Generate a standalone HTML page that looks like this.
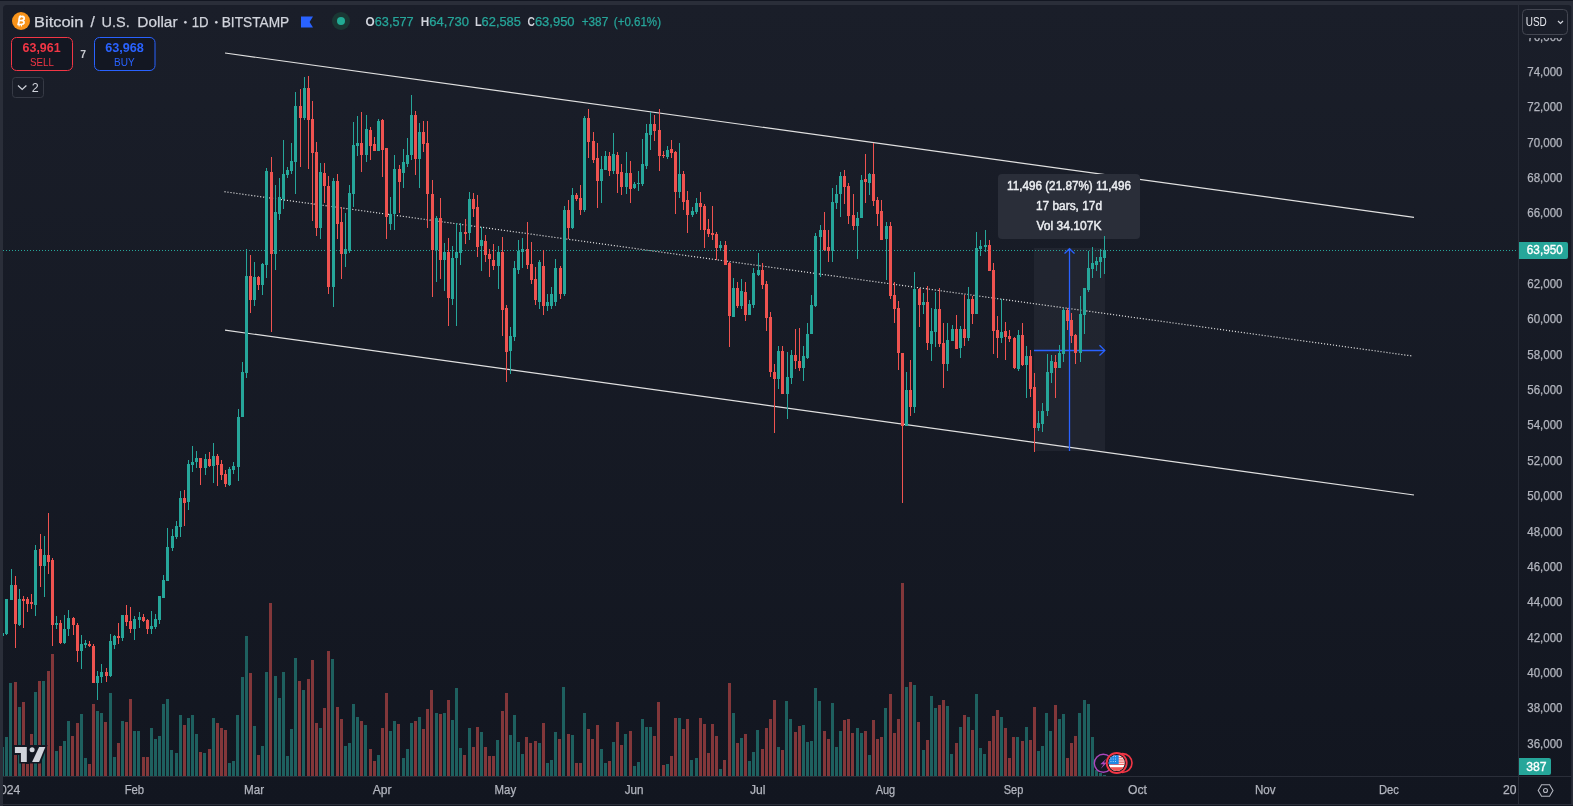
<!DOCTYPE html>
<html><head><meta charset="utf-8"><style>
html,body{margin:0;padding:0;width:1573px;height:806px;overflow:hidden;background:#2a2e39}
svg{display:block;will-change:transform}
text{font-family:"Liberation Sans",sans-serif}
</style></head><body>
<svg width="1573" height="806" viewBox="0 0 1573 806">
<rect x="0" y="0" width="1573" height="1" fill="#131722"/>
<defs><linearGradient id="bgg" gradientUnits="userSpaceOnUse" x1="0" y1="5" x2="0" y2="804"><stop offset="0" stop-color="#1a1e29"/><stop offset="1" stop-color="#121620"/></linearGradient></defs>
<rect x="3" y="5" width="1568.5" height="799" fill="url(#bgg)"/>
<g shape-rendering="crispEdges"><rect x="1" y="747" width="3" height="29" fill="#1e605f"/><rect x="5" y="737" width="3" height="39" fill="#1e605f"/><rect x="9" y="683" width="3" height="93" fill="#1e605f"/><rect x="14" y="682" width="3" height="94" fill="#82373a"/><rect x="18" y="707" width="3" height="69" fill="#1e605f"/><rect x="22" y="702" width="3" height="74" fill="#82373a"/><rect x="26" y="764" width="3" height="12" fill="#82373a"/><rect x="30" y="734" width="3" height="42" fill="#82373a"/><rect x="34" y="692" width="3" height="84" fill="#1e605f"/><rect x="38" y="681" width="3" height="95" fill="#82373a"/><rect x="42" y="681" width="3" height="95" fill="#1e605f"/><rect x="47" y="671" width="3" height="105" fill="#82373a"/><rect x="51" y="654" width="3" height="122" fill="#82373a"/><rect x="55" y="751" width="3" height="25" fill="#1e605f"/><rect x="59" y="746" width="3" height="30" fill="#82373a"/><rect x="63" y="741" width="3" height="35" fill="#1e605f"/><rect x="67" y="721" width="3" height="55" fill="#1e605f"/><rect x="71" y="736" width="3" height="40" fill="#82373a"/><rect x="76" y="723" width="3" height="53" fill="#82373a"/><rect x="80" y="714" width="3" height="62" fill="#1e605f"/><rect x="84" y="758" width="3" height="18" fill="#1e605f"/><rect x="88" y="764" width="3" height="12" fill="#82373a"/><rect x="92" y="704" width="3" height="72" fill="#82373a"/><rect x="96" y="711" width="3" height="65" fill="#1e605f"/><rect x="100" y="713" width="3" height="63" fill="#1e605f"/><rect x="104" y="722" width="3" height="54" fill="#82373a"/><rect x="109" y="693" width="3" height="83" fill="#1e605f"/><rect x="113" y="757" width="3" height="19" fill="#1e605f"/><rect x="117" y="743" width="3" height="33" fill="#82373a"/><rect x="121" y="721" width="3" height="55" fill="#1e605f"/><rect x="125" y="722" width="3" height="54" fill="#82373a"/><rect x="129" y="699" width="3" height="77" fill="#82373a"/><rect x="133" y="731" width="3" height="45" fill="#1e605f"/><rect x="137" y="731" width="3" height="45" fill="#1e605f"/><rect x="142" y="757" width="3" height="19" fill="#82373a"/><rect x="146" y="757" width="3" height="19" fill="#82373a"/><rect x="150" y="728" width="3" height="48" fill="#1e605f"/><rect x="154" y="739" width="3" height="37" fill="#1e605f"/><rect x="158" y="736" width="3" height="40" fill="#1e605f"/><rect x="162" y="704" width="3" height="72" fill="#1e605f"/><rect x="166" y="699" width="3" height="77" fill="#1e605f"/><rect x="170" y="750" width="3" height="26" fill="#1e605f"/><rect x="175" y="753" width="3" height="23" fill="#1e605f"/><rect x="179" y="715" width="3" height="61" fill="#1e605f"/><rect x="183" y="725" width="3" height="51" fill="#82373a"/><rect x="187" y="718" width="3" height="58" fill="#1e605f"/><rect x="191" y="715" width="3" height="61" fill="#1e605f"/><rect x="195" y="734" width="3" height="42" fill="#1e605f"/><rect x="199" y="752" width="3" height="24" fill="#82373a"/><rect x="203" y="753" width="3" height="23" fill="#1e605f"/><rect x="208" y="749" width="3" height="27" fill="#82373a"/><rect x="212" y="718" width="3" height="58" fill="#1e605f"/><rect x="216" y="723" width="3" height="53" fill="#82373a"/><rect x="220" y="728" width="3" height="48" fill="#82373a"/><rect x="224" y="730" width="3" height="46" fill="#82373a"/><rect x="228" y="763" width="3" height="13" fill="#1e605f"/><rect x="232" y="761" width="3" height="15" fill="#1e605f"/><rect x="236" y="715" width="3" height="61" fill="#1e605f"/><rect x="241" y="677" width="3" height="99" fill="#1e605f"/><rect x="245" y="636" width="3" height="140" fill="#1e605f"/><rect x="249" y="673" width="3" height="103" fill="#82373a"/><rect x="253" y="726" width="3" height="50" fill="#1e605f"/><rect x="257" y="755" width="3" height="21" fill="#82373a"/><rect x="261" y="746" width="3" height="30" fill="#1e605f"/><rect x="265" y="672" width="3" height="104" fill="#1e605f"/><rect x="269" y="603" width="3" height="173" fill="#82373a"/><rect x="274" y="676" width="3" height="100" fill="#1e605f"/><rect x="278" y="698" width="3" height="78" fill="#1e605f"/><rect x="282" y="672" width="3" height="104" fill="#1e605f"/><rect x="286" y="756" width="3" height="20" fill="#1e605f"/><rect x="290" y="729" width="3" height="47" fill="#1e605f"/><rect x="294" y="658" width="3" height="118" fill="#1e605f"/><rect x="298" y="681" width="3" height="95" fill="#82373a"/><rect x="302" y="690" width="3" height="86" fill="#1e605f"/><rect x="307" y="679" width="3" height="97" fill="#82373a"/><rect x="311" y="660" width="3" height="116" fill="#82373a"/><rect x="315" y="723" width="3" height="53" fill="#82373a"/><rect x="319" y="728" width="3" height="48" fill="#1e605f"/><rect x="323" y="708" width="3" height="68" fill="#82373a"/><rect x="327" y="651" width="3" height="125" fill="#82373a"/><rect x="331" y="659" width="3" height="117" fill="#1e605f"/><rect x="336" y="707" width="3" height="69" fill="#82373a"/><rect x="340" y="719" width="3" height="57" fill="#82373a"/><rect x="344" y="746" width="3" height="30" fill="#1e605f"/><rect x="348" y="743" width="3" height="33" fill="#1e605f"/><rect x="352" y="704" width="3" height="72" fill="#1e605f"/><rect x="356" y="717" width="3" height="59" fill="#1e605f"/><rect x="360" y="721" width="3" height="55" fill="#82373a"/><rect x="364" y="725" width="3" height="51" fill="#1e605f"/><rect x="369" y="749" width="3" height="27" fill="#82373a"/><rect x="373" y="761" width="3" height="15" fill="#82373a"/><rect x="377" y="755" width="3" height="21" fill="#1e605f"/><rect x="381" y="728" width="3" height="48" fill="#82373a"/><rect x="385" y="693" width="3" height="83" fill="#82373a"/><rect x="389" y="731" width="3" height="45" fill="#1e605f"/><rect x="393" y="721" width="3" height="55" fill="#1e605f"/><rect x="397" y="724" width="3" height="52" fill="#82373a"/><rect x="402" y="758" width="3" height="18" fill="#1e605f"/><rect x="406" y="749" width="3" height="27" fill="#1e605f"/><rect x="410" y="723" width="3" height="53" fill="#1e605f"/><rect x="414" y="721" width="3" height="55" fill="#82373a"/><rect x="418" y="717" width="3" height="59" fill="#1e605f"/><rect x="422" y="729" width="3" height="47" fill="#82373a"/><rect x="426" y="709" width="3" height="67" fill="#82373a"/><rect x="430" y="690" width="3" height="86" fill="#82373a"/><rect x="435" y="713" width="3" height="63" fill="#1e605f"/><rect x="439" y="714" width="3" height="62" fill="#82373a"/><rect x="443" y="713" width="3" height="63" fill="#1e605f"/><rect x="447" y="700" width="3" height="76" fill="#82373a"/><rect x="451" y="720" width="3" height="56" fill="#1e605f"/><rect x="455" y="688" width="3" height="88" fill="#1e605f"/><rect x="459" y="748" width="3" height="28" fill="#1e605f"/><rect x="463" y="755" width="3" height="21" fill="#82373a"/><rect x="468" y="728" width="3" height="48" fill="#1e605f"/><rect x="472" y="747" width="3" height="29" fill="#82373a"/><rect x="476" y="727" width="3" height="49" fill="#82373a"/><rect x="480" y="732" width="3" height="44" fill="#1e605f"/><rect x="484" y="747" width="3" height="29" fill="#82373a"/><rect x="488" y="756" width="3" height="20" fill="#82373a"/><rect x="492" y="756" width="3" height="20" fill="#82373a"/><rect x="496" y="740" width="3" height="36" fill="#1e605f"/><rect x="501" y="711" width="3" height="65" fill="#82373a"/><rect x="505" y="693" width="3" height="83" fill="#82373a"/><rect x="509" y="735" width="3" height="41" fill="#1e605f"/><rect x="513" y="715" width="3" height="61" fill="#1e605f"/><rect x="517" y="742" width="3" height="34" fill="#1e605f"/><rect x="521" y="754" width="3" height="22" fill="#1e605f"/><rect x="525" y="737" width="3" height="39" fill="#82373a"/><rect x="529" y="743" width="3" height="33" fill="#82373a"/><rect x="534" y="741" width="3" height="35" fill="#82373a"/><rect x="538" y="743" width="3" height="33" fill="#1e605f"/><rect x="542" y="723" width="3" height="53" fill="#82373a"/><rect x="546" y="763" width="3" height="13" fill="#1e605f"/><rect x="550" y="760" width="3" height="16" fill="#1e605f"/><rect x="554" y="732" width="3" height="44" fill="#1e605f"/><rect x="558" y="739" width="3" height="37" fill="#82373a"/><rect x="562" y="687" width="3" height="89" fill="#1e605f"/><rect x="567" y="734" width="3" height="42" fill="#82373a"/><rect x="571" y="735" width="3" height="41" fill="#1e605f"/><rect x="575" y="763" width="3" height="13" fill="#82373a"/><rect x="579" y="763" width="3" height="13" fill="#82373a"/><rect x="583" y="713" width="3" height="63" fill="#1e605f"/><rect x="587" y="729" width="3" height="47" fill="#82373a"/><rect x="591" y="739" width="3" height="37" fill="#82373a"/><rect x="596" y="725" width="3" height="51" fill="#82373a"/><rect x="600" y="749" width="3" height="27" fill="#1e605f"/><rect x="604" y="763" width="3" height="13" fill="#1e605f"/><rect x="608" y="761" width="3" height="15" fill="#82373a"/><rect x="612" y="742" width="3" height="34" fill="#1e605f"/><rect x="616" y="722" width="3" height="54" fill="#82373a"/><rect x="620" y="745" width="3" height="31" fill="#82373a"/><rect x="624" y="734" width="3" height="42" fill="#1e605f"/><rect x="629" y="731" width="3" height="45" fill="#82373a"/><rect x="633" y="766" width="3" height="10" fill="#1e605f"/><rect x="637" y="762" width="3" height="14" fill="#1e605f"/><rect x="641" y="719" width="3" height="57" fill="#1e605f"/><rect x="645" y="727" width="3" height="49" fill="#1e605f"/><rect x="649" y="727" width="3" height="49" fill="#1e605f"/><rect x="653" y="736" width="3" height="40" fill="#82373a"/><rect x="657" y="702" width="3" height="74" fill="#82373a"/><rect x="662" y="765" width="3" height="11" fill="#82373a"/><rect x="666" y="764" width="3" height="12" fill="#1e605f"/><rect x="670" y="756" width="3" height="20" fill="#82373a"/><rect x="674" y="718" width="3" height="58" fill="#82373a"/><rect x="678" y="718" width="3" height="58" fill="#1e605f"/><rect x="682" y="729" width="3" height="47" fill="#82373a"/><rect x="686" y="719" width="3" height="57" fill="#82373a"/><rect x="690" y="760" width="3" height="16" fill="#1e605f"/><rect x="695" y="758" width="3" height="18" fill="#1e605f"/><rect x="699" y="718" width="3" height="58" fill="#82373a"/><rect x="703" y="724" width="3" height="52" fill="#82373a"/><rect x="707" y="753" width="3" height="23" fill="#82373a"/><rect x="711" y="724" width="3" height="52" fill="#82373a"/><rect x="715" y="736" width="3" height="40" fill="#82373a"/><rect x="719" y="769" width="3" height="7" fill="#1e605f"/><rect x="723" y="760" width="3" height="16" fill="#82373a"/><rect x="728" y="683" width="3" height="93" fill="#82373a"/><rect x="732" y="713" width="3" height="63" fill="#1e605f"/><rect x="736" y="743" width="3" height="33" fill="#82373a"/><rect x="740" y="738" width="3" height="38" fill="#1e605f"/><rect x="744" y="734" width="3" height="42" fill="#82373a"/><rect x="748" y="761" width="3" height="15" fill="#1e605f"/><rect x="752" y="752" width="3" height="24" fill="#1e605f"/><rect x="756" y="730" width="3" height="46" fill="#1e605f"/><rect x="761" y="749" width="3" height="27" fill="#82373a"/><rect x="765" y="728" width="3" height="48" fill="#82373a"/><rect x="769" y="719" width="3" height="57" fill="#82373a"/><rect x="773" y="700" width="3" height="76" fill="#82373a"/><rect x="777" y="747" width="3" height="29" fill="#1e605f"/><rect x="781" y="750" width="3" height="26" fill="#82373a"/><rect x="785" y="701" width="3" height="75" fill="#1e605f"/><rect x="789" y="719" width="3" height="57" fill="#1e605f"/><rect x="794" y="732" width="3" height="44" fill="#82373a"/><rect x="798" y="726" width="3" height="50" fill="#82373a"/><rect x="802" y="725" width="3" height="51" fill="#1e605f"/><rect x="806" y="742" width="3" height="34" fill="#1e605f"/><rect x="810" y="741" width="3" height="35" fill="#1e605f"/><rect x="814" y="688" width="3" height="88" fill="#1e605f"/><rect x="818" y="701" width="3" height="75" fill="#1e605f"/><rect x="823" y="731" width="3" height="45" fill="#82373a"/><rect x="827" y="739" width="3" height="37" fill="#82373a"/><rect x="831" y="703" width="3" height="73" fill="#1e605f"/><rect x="835" y="747" width="3" height="29" fill="#1e605f"/><rect x="839" y="731" width="3" height="45" fill="#1e605f"/><rect x="843" y="720" width="3" height="56" fill="#82373a"/><rect x="847" y="719" width="3" height="57" fill="#82373a"/><rect x="851" y="733" width="3" height="43" fill="#82373a"/><rect x="856" y="728" width="3" height="48" fill="#1e605f"/><rect x="860" y="733" width="3" height="43" fill="#1e605f"/><rect x="864" y="731" width="3" height="45" fill="#82373a"/><rect x="868" y="755" width="3" height="21" fill="#1e605f"/><rect x="872" y="720" width="3" height="56" fill="#82373a"/><rect x="876" y="739" width="3" height="37" fill="#82373a"/><rect x="880" y="737" width="3" height="39" fill="#82373a"/><rect x="884" y="708" width="3" height="68" fill="#1e605f"/><rect x="889" y="694" width="3" height="82" fill="#82373a"/><rect x="893" y="733" width="3" height="43" fill="#82373a"/><rect x="897" y="719" width="3" height="57" fill="#82373a"/><rect x="901" y="583" width="3" height="193" fill="#82373a"/><rect x="905" y="687" width="3" height="89" fill="#1e605f"/><rect x="909" y="682" width="3" height="94" fill="#82373a"/><rect x="913" y="685" width="3" height="91" fill="#1e605f"/><rect x="917" y="722" width="3" height="54" fill="#82373a"/><rect x="922" y="750" width="3" height="26" fill="#1e605f"/><rect x="926" y="740" width="3" height="36" fill="#82373a"/><rect x="930" y="696" width="3" height="80" fill="#1e605f"/><rect x="934" y="708" width="3" height="68" fill="#1e605f"/><rect x="938" y="705" width="3" height="71" fill="#82373a"/><rect x="942" y="700" width="3" height="76" fill="#82373a"/><rect x="946" y="706" width="3" height="70" fill="#1e605f"/><rect x="950" y="754" width="3" height="22" fill="#1e605f"/><rect x="955" y="743" width="3" height="33" fill="#82373a"/><rect x="959" y="727" width="3" height="49" fill="#1e605f"/><rect x="963" y="715" width="3" height="61" fill="#82373a"/><rect x="967" y="717" width="3" height="59" fill="#1e605f"/><rect x="971" y="730" width="3" height="46" fill="#82373a"/><rect x="975" y="694" width="3" height="82" fill="#1e605f"/><rect x="979" y="748" width="3" height="28" fill="#1e605f"/><rect x="983" y="754" width="3" height="22" fill="#1e605f"/><rect x="988" y="741" width="3" height="35" fill="#82373a"/><rect x="992" y="716" width="3" height="60" fill="#82373a"/><rect x="996" y="710" width="3" height="66" fill="#82373a"/><rect x="1000" y="717" width="3" height="59" fill="#1e605f"/><rect x="1004" y="728" width="3" height="48" fill="#82373a"/><rect x="1008" y="758" width="3" height="18" fill="#82373a"/><rect x="1012" y="737" width="3" height="39" fill="#82373a"/><rect x="1016" y="737" width="3" height="39" fill="#1e605f"/><rect x="1021" y="741" width="3" height="35" fill="#82373a"/><rect x="1025" y="727" width="3" height="49" fill="#1e605f"/><rect x="1029" y="740" width="3" height="36" fill="#82373a"/><rect x="1033" y="707" width="3" height="69" fill="#82373a"/><rect x="1037" y="751" width="3" height="25" fill="#1e605f"/><rect x="1041" y="746" width="3" height="30" fill="#1e605f"/><rect x="1045" y="713" width="3" height="63" fill="#1e605f"/><rect x="1049" y="731" width="3" height="45" fill="#1e605f"/><rect x="1054" y="705" width="3" height="71" fill="#82373a"/><rect x="1058" y="719" width="3" height="57" fill="#1e605f"/><rect x="1062" y="714" width="3" height="62" fill="#1e605f"/><rect x="1066" y="758" width="3" height="18" fill="#82373a"/><rect x="1070" y="743" width="3" height="33" fill="#82373a"/><rect x="1074" y="736" width="3" height="40" fill="#82373a"/><rect x="1078" y="713" width="3" height="63" fill="#1e605f"/><rect x="1083" y="700" width="3" height="76" fill="#1e605f"/><rect x="1087" y="704" width="3" height="72" fill="#1e605f"/><rect x="1091" y="737" width="3" height="39" fill="#1e605f"/><rect x="1095" y="770" width="3" height="6" fill="#1e605f"/><rect x="1099" y="773" width="3" height="3" fill="#1e605f"/><rect x="1103" y="775" width="3" height="1" fill="#1e605f"/></g>
<rect x="1034" y="248" width="71" height="203" fill="#2a2e39" fill-opacity="0.55"/>
<g stroke-linecap="butt" fill="none">
<line x1="225" y1="53" x2="1414" y2="217.3" stroke="#e0e0e0" stroke-width="1.2"/>
<line x1="225" y1="330.2" x2="1414" y2="495" stroke="#e0e0e0" stroke-width="1.2"/>
<line x1="224.5" y1="191.7" x2="1412.3" y2="356" stroke="#e0e0e0" stroke-width="1.2" stroke-dasharray="1.1 1.9"/>
</g>
<line x1="3" y1="250.5" x2="1518" y2="250.5" stroke="#26a69a" stroke-width="1" stroke-dasharray="1 2"/>
<rect x="998" y="174" width="142" height="65" rx="4" fill="#2a2e39"/>
<g font-size="12.3" fill="#eceef2" stroke="#eceef2" stroke-width="0.45" text-anchor="middle">
<text x="1069" y="190" textLength="124" lengthAdjust="spacingAndGlyphs">11,496 (21.87%) 11,496</text>
<text x="1069" y="210" textLength="66" lengthAdjust="spacingAndGlyphs">17 bars, 17d</text>
<text x="1069" y="230" textLength="65" lengthAdjust="spacingAndGlyphs">Vol 34.107K</text>
</g>

<g stroke="#2962ff" stroke-width="1.3" fill="none">
<line x1="1069.5" y1="249" x2="1069.5" y2="451"/>
<polyline points="1064.5,253.5 1069.5,248.7 1074.5,253.5"/>
<line x1="1034" y1="350.5" x2="1104.5" y2="350.5"/>
<polyline points="1099.5,345.3 1104.8,350.4 1099.5,355.5"/>
</g>
<g shape-rendering="crispEdges"><rect x="2" y="633" width="1" height="3" fill="#26a69a"/><rect x="1" y="633" width="3" height="3" fill="#26a69a"/><rect x="6" y="599" width="1" height="36" fill="#26a69a"/><rect x="5" y="599" width="3" height="35" fill="#26a69a"/><rect x="11" y="569" width="1" height="31" fill="#26a69a"/><rect x="10" y="585" width="3" height="15" fill="#26a69a"/><rect x="15" y="576" width="1" height="72" fill="#ef5350"/><rect x="14" y="585" width="3" height="39" fill="#ef5350"/><rect x="19" y="589" width="1" height="37" fill="#26a69a"/><rect x="18" y="599" width="3" height="26" fill="#26a69a"/><rect x="23" y="596" width="1" height="32" fill="#ef5350"/><rect x="22" y="599" width="3" height="2" fill="#ef5350"/><rect x="27" y="597" width="1" height="15" fill="#ef5350"/><rect x="26" y="599" width="3" height="5" fill="#ef5350"/><rect x="31" y="594" width="1" height="15" fill="#ef5350"/><rect x="30" y="602" width="3" height="2" fill="#ef5350"/><rect x="35" y="545" width="1" height="71" fill="#26a69a"/><rect x="34" y="550" width="3" height="55" fill="#26a69a"/><rect x="40" y="534" width="1" height="53" fill="#ef5350"/><rect x="39" y="549" width="3" height="17" fill="#ef5350"/><rect x="44" y="536" width="1" height="61" fill="#26a69a"/><rect x="43" y="555" width="3" height="11" fill="#26a69a"/><rect x="48" y="513" width="1" height="61" fill="#ef5350"/><rect x="47" y="555" width="3" height="7" fill="#ef5350"/><rect x="52" y="558" width="1" height="88" fill="#ef5350"/><rect x="51" y="560" width="3" height="65" fill="#ef5350"/><rect x="56" y="616" width="1" height="13" fill="#26a69a"/><rect x="55" y="623" width="3" height="2" fill="#26a69a"/><rect x="60" y="620" width="1" height="24" fill="#ef5350"/><rect x="59" y="623" width="3" height="20" fill="#ef5350"/><rect x="64" y="615" width="1" height="29" fill="#26a69a"/><rect x="63" y="629" width="3" height="14" fill="#26a69a"/><rect x="68" y="610" width="1" height="26" fill="#26a69a"/><rect x="67" y="618" width="3" height="11" fill="#26a69a"/><rect x="73" y="617" width="1" height="18" fill="#ef5350"/><rect x="72" y="618" width="3" height="7" fill="#ef5350"/><rect x="77" y="623" width="1" height="39" fill="#ef5350"/><rect x="76" y="625" width="3" height="26" fill="#ef5350"/><rect x="81" y="635" width="1" height="34" fill="#26a69a"/><rect x="80" y="644" width="3" height="7" fill="#26a69a"/><rect x="85" y="640" width="1" height="8" fill="#26a69a"/><rect x="84" y="643" width="3" height="2" fill="#26a69a"/><rect x="89" y="641" width="1" height="6" fill="#ef5350"/><rect x="88" y="644" width="3" height="2" fill="#ef5350"/><rect x="93" y="644" width="1" height="39" fill="#ef5350"/><rect x="92" y="646" width="3" height="37" fill="#ef5350"/><rect x="97" y="671" width="1" height="29" fill="#26a69a"/><rect x="96" y="676" width="3" height="7" fill="#26a69a"/><rect x="101" y="664" width="1" height="19" fill="#26a69a"/><rect x="100" y="672" width="3" height="5" fill="#26a69a"/><rect x="106" y="668" width="1" height="14" fill="#ef5350"/><rect x="105" y="672" width="3" height="4" fill="#ef5350"/><rect x="110" y="634" width="1" height="43" fill="#26a69a"/><rect x="109" y="641" width="3" height="35" fill="#26a69a"/><rect x="114" y="635" width="1" height="14" fill="#26a69a"/><rect x="113" y="636" width="3" height="9" fill="#26a69a"/><rect x="118" y="623" width="1" height="21" fill="#ef5350"/><rect x="117" y="636" width="3" height="2" fill="#ef5350"/><rect x="122" y="615" width="1" height="26" fill="#26a69a"/><rect x="121" y="615" width="3" height="23" fill="#26a69a"/><rect x="126" y="605" width="1" height="21" fill="#ef5350"/><rect x="125" y="615" width="3" height="7" fill="#ef5350"/><rect x="130" y="607" width="1" height="26" fill="#ef5350"/><rect x="129" y="621" width="3" height="8" fill="#ef5350"/><rect x="134" y="616" width="1" height="24" fill="#26a69a"/><rect x="133" y="619" width="3" height="10" fill="#26a69a"/><rect x="139" y="612" width="1" height="16" fill="#26a69a"/><rect x="138" y="617" width="3" height="3" fill="#26a69a"/><rect x="143" y="614" width="1" height="8" fill="#ef5350"/><rect x="142" y="617" width="3" height="4" fill="#ef5350"/><rect x="147" y="619" width="1" height="15" fill="#ef5350"/><rect x="146" y="620" width="3" height="9" fill="#ef5350"/><rect x="151" y="611" width="1" height="23" fill="#26a69a"/><rect x="150" y="626" width="3" height="3" fill="#26a69a"/><rect x="155" y="614" width="1" height="15" fill="#26a69a"/><rect x="154" y="619" width="3" height="8" fill="#26a69a"/><rect x="159" y="596" width="1" height="28" fill="#26a69a"/><rect x="158" y="596" width="3" height="24" fill="#26a69a"/><rect x="163" y="575" width="1" height="23" fill="#26a69a"/><rect x="162" y="580" width="3" height="18" fill="#26a69a"/><rect x="167" y="528" width="1" height="53" fill="#26a69a"/><rect x="166" y="547" width="3" height="34" fill="#26a69a"/><rect x="172" y="529" width="1" height="22" fill="#26a69a"/><rect x="171" y="536" width="3" height="12" fill="#26a69a"/><rect x="176" y="521" width="1" height="18" fill="#26a69a"/><rect x="175" y="526" width="3" height="11" fill="#26a69a"/><rect x="180" y="491" width="1" height="46" fill="#26a69a"/><rect x="179" y="498" width="3" height="29" fill="#26a69a"/><rect x="184" y="490" width="1" height="36" fill="#ef5350"/><rect x="183" y="498" width="3" height="5" fill="#ef5350"/><rect x="188" y="460" width="1" height="50" fill="#26a69a"/><rect x="187" y="464" width="3" height="38" fill="#26a69a"/><rect x="192" y="446" width="1" height="26" fill="#26a69a"/><rect x="191" y="462" width="3" height="3" fill="#26a69a"/><rect x="196" y="451" width="1" height="17" fill="#26a69a"/><rect x="195" y="458" width="3" height="4" fill="#26a69a"/><rect x="200" y="458" width="1" height="27" fill="#ef5350"/><rect x="199" y="458" width="3" height="10" fill="#ef5350"/><rect x="205" y="454" width="1" height="21" fill="#26a69a"/><rect x="204" y="459" width="3" height="9" fill="#26a69a"/><rect x="209" y="452" width="1" height="15" fill="#ef5350"/><rect x="208" y="459" width="3" height="7" fill="#ef5350"/><rect x="213" y="443" width="1" height="40" fill="#26a69a"/><rect x="212" y="456" width="3" height="10" fill="#26a69a"/><rect x="217" y="454" width="1" height="32" fill="#ef5350"/><rect x="216" y="456" width="3" height="9" fill="#ef5350"/><rect x="221" y="460" width="1" height="20" fill="#ef5350"/><rect x="220" y="464" width="3" height="11" fill="#ef5350"/><rect x="225" y="470" width="1" height="17" fill="#ef5350"/><rect x="224" y="474" width="3" height="10" fill="#ef5350"/><rect x="229" y="467" width="1" height="19" fill="#26a69a"/><rect x="228" y="469" width="3" height="16" fill="#26a69a"/><rect x="233" y="462" width="1" height="12" fill="#26a69a"/><rect x="232" y="466" width="3" height="4" fill="#26a69a"/><rect x="238" y="409" width="1" height="72" fill="#26a69a"/><rect x="237" y="417" width="3" height="50" fill="#26a69a"/><rect x="242" y="362" width="1" height="55" fill="#26a69a"/><rect x="241" y="372" width="3" height="45" fill="#26a69a"/><rect x="246" y="249" width="1" height="129" fill="#26a69a"/><rect x="245" y="276" width="3" height="97" fill="#26a69a"/><rect x="250" y="255" width="1" height="58" fill="#ef5350"/><rect x="249" y="276" width="3" height="24" fill="#ef5350"/><rect x="254" y="262" width="1" height="44" fill="#26a69a"/><rect x="253" y="277" width="3" height="23" fill="#26a69a"/><rect x="258" y="276" width="1" height="14" fill="#ef5350"/><rect x="257" y="277" width="3" height="8" fill="#ef5350"/><rect x="262" y="263" width="1" height="32" fill="#26a69a"/><rect x="261" y="264" width="3" height="21" fill="#26a69a"/><rect x="266" y="168" width="1" height="110" fill="#26a69a"/><rect x="265" y="171" width="3" height="94" fill="#26a69a"/><rect x="271" y="157" width="1" height="175" fill="#ef5350"/><rect x="270" y="172" width="3" height="82" fill="#ef5350"/><rect x="275" y="185" width="1" height="85" fill="#26a69a"/><rect x="274" y="212" width="3" height="42" fill="#26a69a"/><rect x="279" y="178" width="1" height="42" fill="#26a69a"/><rect x="278" y="197" width="3" height="17" fill="#26a69a"/><rect x="283" y="140" width="1" height="69" fill="#26a69a"/><rect x="282" y="174" width="3" height="25" fill="#26a69a"/><rect x="287" y="167" width="1" height="11" fill="#26a69a"/><rect x="286" y="170" width="3" height="5" fill="#26a69a"/><rect x="291" y="143" width="1" height="31" fill="#26a69a"/><rect x="290" y="161" width="3" height="10" fill="#26a69a"/><rect x="295" y="92" width="1" height="102" fill="#26a69a"/><rect x="294" y="106" width="3" height="56" fill="#26a69a"/><rect x="300" y="89" width="1" height="78" fill="#ef5350"/><rect x="299" y="106" width="3" height="12" fill="#ef5350"/><rect x="304" y="77" width="1" height="43" fill="#26a69a"/><rect x="303" y="88" width="3" height="30" fill="#26a69a"/><rect x="308" y="76" width="1" height="93" fill="#ef5350"/><rect x="307" y="88" width="3" height="32" fill="#ef5350"/><rect x="312" y="101" width="1" height="120" fill="#ef5350"/><rect x="311" y="119" width="3" height="34" fill="#ef5350"/><rect x="316" y="142" width="1" height="94" fill="#ef5350"/><rect x="315" y="152" width="3" height="76" fill="#ef5350"/><rect x="320" y="163" width="1" height="76" fill="#26a69a"/><rect x="319" y="172" width="3" height="56" fill="#26a69a"/><rect x="324" y="163" width="1" height="40" fill="#ef5350"/><rect x="323" y="173" width="3" height="13" fill="#ef5350"/><rect x="328" y="176" width="1" height="118" fill="#ef5350"/><rect x="327" y="186" width="3" height="101" fill="#ef5350"/><rect x="333" y="178" width="1" height="129" fill="#26a69a"/><rect x="332" y="181" width="3" height="106" fill="#26a69a"/><rect x="337" y="174" width="1" height="65" fill="#ef5350"/><rect x="336" y="181" width="3" height="43" fill="#ef5350"/><rect x="341" y="207" width="1" height="72" fill="#ef5350"/><rect x="340" y="222" width="3" height="32" fill="#ef5350"/><rect x="345" y="213" width="1" height="54" fill="#26a69a"/><rect x="344" y="249" width="3" height="5" fill="#26a69a"/><rect x="349" y="185" width="1" height="68" fill="#26a69a"/><rect x="348" y="193" width="3" height="58" fill="#26a69a"/><rect x="353" y="122" width="1" height="85" fill="#26a69a"/><rect x="352" y="145" width="3" height="49" fill="#26a69a"/><rect x="357" y="116" width="1" height="40" fill="#26a69a"/><rect x="356" y="143" width="3" height="3" fill="#26a69a"/><rect x="361" y="112" width="1" height="60" fill="#ef5350"/><rect x="360" y="143" width="3" height="12" fill="#ef5350"/><rect x="366" y="115" width="1" height="47" fill="#26a69a"/><rect x="365" y="129" width="3" height="26" fill="#26a69a"/><rect x="370" y="127" width="1" height="33" fill="#ef5350"/><rect x="369" y="130" width="3" height="16" fill="#ef5350"/><rect x="374" y="137" width="1" height="14" fill="#ef5350"/><rect x="373" y="144" width="3" height="7" fill="#ef5350"/><rect x="378" y="119" width="1" height="32" fill="#26a69a"/><rect x="377" y="121" width="3" height="30" fill="#26a69a"/><rect x="382" y="119" width="1" height="58" fill="#ef5350"/><rect x="381" y="120" width="3" height="30" fill="#ef5350"/><rect x="386" y="148" width="1" height="91" fill="#ef5350"/><rect x="385" y="148" width="3" height="69" fill="#ef5350"/><rect x="390" y="197" width="1" height="33" fill="#26a69a"/><rect x="389" y="214" width="3" height="10" fill="#26a69a"/><rect x="394" y="155" width="1" height="75" fill="#26a69a"/><rect x="393" y="169" width="3" height="45" fill="#26a69a"/><rect x="399" y="165" width="1" height="48" fill="#ef5350"/><rect x="398" y="169" width="3" height="13" fill="#ef5350"/><rect x="403" y="149" width="1" height="39" fill="#26a69a"/><rect x="402" y="162" width="3" height="11" fill="#26a69a"/><rect x="407" y="138" width="1" height="29" fill="#26a69a"/><rect x="406" y="155" width="3" height="9" fill="#26a69a"/><rect x="411" y="95" width="1" height="65" fill="#26a69a"/><rect x="410" y="115" width="3" height="40" fill="#26a69a"/><rect x="415" y="111" width="1" height="64" fill="#ef5350"/><rect x="414" y="115" width="3" height="44" fill="#ef5350"/><rect x="419" y="123" width="1" height="65" fill="#26a69a"/><rect x="418" y="132" width="3" height="27" fill="#26a69a"/><rect x="423" y="121" width="1" height="31" fill="#ef5350"/><rect x="422" y="132" width="3" height="12" fill="#ef5350"/><rect x="427" y="121" width="1" height="107" fill="#ef5350"/><rect x="426" y="143" width="3" height="51" fill="#ef5350"/><rect x="432" y="180" width="1" height="117" fill="#ef5350"/><rect x="431" y="194" width="3" height="56" fill="#ef5350"/><rect x="436" y="216" width="1" height="66" fill="#26a69a"/><rect x="435" y="218" width="3" height="32" fill="#26a69a"/><rect x="440" y="198" width="1" height="81" fill="#ef5350"/><rect x="439" y="218" width="3" height="42" fill="#ef5350"/><rect x="444" y="243" width="1" height="48" fill="#26a69a"/><rect x="443" y="252" width="3" height="8" fill="#26a69a"/><rect x="448" y="238" width="1" height="88" fill="#ef5350"/><rect x="447" y="252" width="3" height="46" fill="#ef5350"/><rect x="452" y="246" width="1" height="59" fill="#26a69a"/><rect x="451" y="258" width="3" height="41" fill="#26a69a"/><rect x="456" y="223" width="1" height="103" fill="#26a69a"/><rect x="455" y="252" width="3" height="6" fill="#26a69a"/><rect x="460" y="223" width="1" height="42" fill="#26a69a"/><rect x="459" y="232" width="3" height="21" fill="#26a69a"/><rect x="465" y="219" width="1" height="25" fill="#ef5350"/><rect x="464" y="232" width="3" height="2" fill="#ef5350"/><rect x="469" y="192" width="1" height="48" fill="#26a69a"/><rect x="468" y="199" width="3" height="34" fill="#26a69a"/><rect x="473" y="193" width="1" height="24" fill="#ef5350"/><rect x="472" y="199" width="3" height="10" fill="#ef5350"/><rect x="477" y="195" width="1" height="62" fill="#ef5350"/><rect x="476" y="207" width="3" height="40" fill="#ef5350"/><rect x="481" y="227" width="1" height="44" fill="#26a69a"/><rect x="480" y="240" width="3" height="6" fill="#26a69a"/><rect x="485" y="235" width="1" height="27" fill="#ef5350"/><rect x="484" y="241" width="3" height="14" fill="#ef5350"/><rect x="489" y="249" width="1" height="28" fill="#ef5350"/><rect x="488" y="254" width="3" height="5" fill="#ef5350"/><rect x="493" y="244" width="1" height="26" fill="#ef5350"/><rect x="492" y="260" width="3" height="6" fill="#ef5350"/><rect x="498" y="246" width="1" height="43" fill="#26a69a"/><rect x="497" y="252" width="3" height="14" fill="#26a69a"/><rect x="502" y="237" width="1" height="99" fill="#ef5350"/><rect x="501" y="252" width="3" height="58" fill="#ef5350"/><rect x="506" y="305" width="1" height="77" fill="#ef5350"/><rect x="505" y="308" width="3" height="44" fill="#ef5350"/><rect x="510" y="327" width="1" height="47" fill="#26a69a"/><rect x="509" y="336" width="3" height="15" fill="#26a69a"/><rect x="514" y="261" width="1" height="80" fill="#26a69a"/><rect x="513" y="268" width="3" height="69" fill="#26a69a"/><rect x="518" y="240" width="1" height="34" fill="#26a69a"/><rect x="517" y="251" width="3" height="19" fill="#26a69a"/><rect x="522" y="238" width="1" height="30" fill="#26a69a"/><rect x="521" y="249" width="3" height="3" fill="#26a69a"/><rect x="527" y="222" width="1" height="47" fill="#ef5350"/><rect x="526" y="249" width="3" height="16" fill="#ef5350"/><rect x="531" y="242" width="1" height="42" fill="#ef5350"/><rect x="530" y="264" width="3" height="16" fill="#ef5350"/><rect x="535" y="267" width="1" height="38" fill="#ef5350"/><rect x="534" y="279" width="3" height="21" fill="#ef5350"/><rect x="539" y="260" width="1" height="49" fill="#26a69a"/><rect x="538" y="262" width="3" height="40" fill="#26a69a"/><rect x="543" y="250" width="1" height="65" fill="#ef5350"/><rect x="542" y="266" width="3" height="40" fill="#ef5350"/><rect x="547" y="294" width="1" height="17" fill="#26a69a"/><rect x="546" y="302" width="3" height="4" fill="#26a69a"/><rect x="551" y="287" width="1" height="22" fill="#26a69a"/><rect x="550" y="294" width="3" height="12" fill="#26a69a"/><rect x="555" y="259" width="1" height="47" fill="#26a69a"/><rect x="554" y="268" width="3" height="34" fill="#26a69a"/><rect x="560" y="266" width="1" height="33" fill="#ef5350"/><rect x="559" y="268" width="3" height="26" fill="#ef5350"/><rect x="564" y="206" width="1" height="90" fill="#26a69a"/><rect x="563" y="210" width="3" height="84" fill="#26a69a"/><rect x="568" y="200" width="1" height="39" fill="#ef5350"/><rect x="567" y="210" width="3" height="18" fill="#ef5350"/><rect x="572" y="188" width="1" height="41" fill="#26a69a"/><rect x="571" y="195" width="3" height="33" fill="#26a69a"/><rect x="576" y="193" width="1" height="8" fill="#ef5350"/><rect x="575" y="195" width="3" height="4" fill="#ef5350"/><rect x="580" y="185" width="1" height="30" fill="#ef5350"/><rect x="579" y="198" width="3" height="12" fill="#ef5350"/><rect x="584" y="116" width="1" height="96" fill="#26a69a"/><rect x="583" y="118" width="3" height="92" fill="#26a69a"/><rect x="588" y="109" width="1" height="49" fill="#ef5350"/><rect x="587" y="118" width="3" height="24" fill="#ef5350"/><rect x="593" y="132" width="1" height="31" fill="#ef5350"/><rect x="592" y="141" width="3" height="19" fill="#ef5350"/><rect x="597" y="143" width="1" height="65" fill="#ef5350"/><rect x="596" y="158" width="3" height="23" fill="#ef5350"/><rect x="601" y="156" width="1" height="47" fill="#26a69a"/><rect x="600" y="169" width="3" height="12" fill="#26a69a"/><rect x="605" y="151" width="1" height="19" fill="#26a69a"/><rect x="604" y="156" width="3" height="14" fill="#26a69a"/><rect x="609" y="152" width="1" height="24" fill="#ef5350"/><rect x="608" y="156" width="3" height="15" fill="#ef5350"/><rect x="613" y="133" width="1" height="41" fill="#26a69a"/><rect x="612" y="154" width="3" height="17" fill="#26a69a"/><rect x="617" y="152" width="1" height="41" fill="#ef5350"/><rect x="616" y="155" width="3" height="19" fill="#ef5350"/><rect x="621" y="164" width="1" height="31" fill="#ef5350"/><rect x="620" y="172" width="3" height="15" fill="#ef5350"/><rect x="626" y="152" width="1" height="42" fill="#26a69a"/><rect x="625" y="173" width="3" height="14" fill="#26a69a"/><rect x="630" y="161" width="1" height="42" fill="#ef5350"/><rect x="629" y="173" width="3" height="16" fill="#ef5350"/><rect x="634" y="182" width="1" height="7" fill="#26a69a"/><rect x="633" y="184" width="3" height="4" fill="#26a69a"/><rect x="638" y="171" width="1" height="20" fill="#26a69a"/><rect x="637" y="183" width="3" height="1" fill="#26a69a"/><rect x="642" y="139" width="1" height="47" fill="#26a69a"/><rect x="641" y="164" width="3" height="20" fill="#26a69a"/><rect x="646" y="124" width="1" height="45" fill="#26a69a"/><rect x="645" y="133" width="3" height="33" fill="#26a69a"/><rect x="650" y="112" width="1" height="38" fill="#26a69a"/><rect x="649" y="124" width="3" height="11" fill="#26a69a"/><rect x="654" y="115" width="1" height="26" fill="#ef5350"/><rect x="653" y="124" width="3" height="7" fill="#ef5350"/><rect x="659" y="109" width="1" height="62" fill="#ef5350"/><rect x="658" y="130" width="3" height="26" fill="#ef5350"/><rect x="663" y="151" width="1" height="7" fill="#ef5350"/><rect x="662" y="155" width="3" height="1" fill="#ef5350"/><rect x="667" y="146" width="1" height="13" fill="#26a69a"/><rect x="666" y="150" width="3" height="7" fill="#26a69a"/><rect x="671" y="140" width="1" height="18" fill="#ef5350"/><rect x="670" y="149" width="3" height="4" fill="#ef5350"/><rect x="675" y="151" width="1" height="63" fill="#ef5350"/><rect x="674" y="152" width="3" height="40" fill="#ef5350"/><rect x="679" y="143" width="1" height="55" fill="#26a69a"/><rect x="678" y="174" width="3" height="18" fill="#26a69a"/><rect x="683" y="171" width="1" height="39" fill="#ef5350"/><rect x="682" y="174" width="3" height="28" fill="#ef5350"/><rect x="687" y="191" width="1" height="42" fill="#ef5350"/><rect x="686" y="200" width="3" height="15" fill="#ef5350"/><rect x="692" y="207" width="1" height="10" fill="#26a69a"/><rect x="691" y="211" width="3" height="4" fill="#26a69a"/><rect x="696" y="198" width="1" height="16" fill="#26a69a"/><rect x="695" y="203" width="3" height="9" fill="#26a69a"/><rect x="700" y="192" width="1" height="38" fill="#ef5350"/><rect x="699" y="203" width="3" height="4" fill="#ef5350"/><rect x="704" y="204" width="1" height="44" fill="#ef5350"/><rect x="703" y="206" width="3" height="24" fill="#ef5350"/><rect x="708" y="219" width="1" height="18" fill="#ef5350"/><rect x="707" y="229" width="3" height="5" fill="#ef5350"/><rect x="712" y="206" width="1" height="34" fill="#ef5350"/><rect x="711" y="233" width="3" height="2" fill="#ef5350"/><rect x="716" y="232" width="1" height="28" fill="#ef5350"/><rect x="715" y="234" width="3" height="14" fill="#ef5350"/><rect x="720" y="241" width="1" height="10" fill="#26a69a"/><rect x="719" y="245" width="3" height="3" fill="#26a69a"/><rect x="725" y="241" width="1" height="24" fill="#ef5350"/><rect x="724" y="245" width="3" height="20" fill="#ef5350"/><rect x="729" y="262" width="1" height="85" fill="#ef5350"/><rect x="728" y="263" width="3" height="53" fill="#ef5350"/><rect x="733" y="278" width="1" height="39" fill="#26a69a"/><rect x="732" y="288" width="3" height="29" fill="#26a69a"/><rect x="737" y="282" width="1" height="26" fill="#ef5350"/><rect x="736" y="288" width="3" height="18" fill="#ef5350"/><rect x="741" y="279" width="1" height="30" fill="#26a69a"/><rect x="740" y="291" width="3" height="15" fill="#26a69a"/><rect x="745" y="282" width="1" height="39" fill="#ef5350"/><rect x="744" y="292" width="3" height="23" fill="#ef5350"/><rect x="749" y="300" width="1" height="15" fill="#26a69a"/><rect x="748" y="304" width="3" height="11" fill="#26a69a"/><rect x="753" y="268" width="1" height="40" fill="#26a69a"/><rect x="752" y="273" width="3" height="32" fill="#26a69a"/><rect x="758" y="253" width="1" height="23" fill="#26a69a"/><rect x="757" y="270" width="3" height="5" fill="#26a69a"/><rect x="762" y="263" width="1" height="26" fill="#ef5350"/><rect x="761" y="270" width="3" height="15" fill="#ef5350"/><rect x="766" y="281" width="1" height="50" fill="#ef5350"/><rect x="765" y="284" width="3" height="34" fill="#ef5350"/><rect x="770" y="312" width="1" height="65" fill="#ef5350"/><rect x="769" y="317" width="3" height="55" fill="#ef5350"/><rect x="774" y="364" width="1" height="69" fill="#ef5350"/><rect x="773" y="372" width="3" height="7" fill="#ef5350"/><rect x="778" y="346" width="1" height="43" fill="#26a69a"/><rect x="777" y="351" width="3" height="28" fill="#26a69a"/><rect x="782" y="346" width="1" height="48" fill="#ef5350"/><rect x="781" y="351" width="3" height="43" fill="#ef5350"/><rect x="787" y="352" width="1" height="67" fill="#26a69a"/><rect x="786" y="377" width="3" height="17" fill="#26a69a"/><rect x="791" y="350" width="1" height="34" fill="#26a69a"/><rect x="790" y="355" width="3" height="23" fill="#26a69a"/><rect x="795" y="329" width="1" height="40" fill="#ef5350"/><rect x="794" y="355" width="3" height="6" fill="#ef5350"/><rect x="799" y="328" width="1" height="43" fill="#ef5350"/><rect x="798" y="361" width="3" height="7" fill="#ef5350"/><rect x="803" y="346" width="1" height="35" fill="#26a69a"/><rect x="802" y="356" width="3" height="12" fill="#26a69a"/><rect x="807" y="323" width="1" height="36" fill="#26a69a"/><rect x="806" y="334" width="3" height="24" fill="#26a69a"/><rect x="811" y="295" width="1" height="39" fill="#26a69a"/><rect x="810" y="305" width="3" height="29" fill="#26a69a"/><rect x="815" y="233" width="1" height="74" fill="#26a69a"/><rect x="814" y="236" width="3" height="70" fill="#26a69a"/><rect x="820" y="225" width="1" height="52" fill="#26a69a"/><rect x="819" y="230" width="3" height="7" fill="#26a69a"/><rect x="824" y="212" width="1" height="39" fill="#ef5350"/><rect x="823" y="230" width="3" height="20" fill="#ef5350"/><rect x="828" y="230" width="1" height="32" fill="#ef5350"/><rect x="827" y="247" width="3" height="4" fill="#ef5350"/><rect x="832" y="188" width="1" height="74" fill="#26a69a"/><rect x="831" y="202" width="3" height="49" fill="#26a69a"/><rect x="836" y="185" width="1" height="24" fill="#26a69a"/><rect x="835" y="194" width="3" height="9" fill="#26a69a"/><rect x="840" y="172" width="1" height="45" fill="#26a69a"/><rect x="839" y="176" width="3" height="18" fill="#26a69a"/><rect x="844" y="170" width="1" height="34" fill="#ef5350"/><rect x="843" y="176" width="3" height="11" fill="#ef5350"/><rect x="848" y="183" width="1" height="41" fill="#ef5350"/><rect x="847" y="186" width="3" height="30" fill="#ef5350"/><rect x="853" y="194" width="1" height="36" fill="#ef5350"/><rect x="852" y="215" width="3" height="11" fill="#ef5350"/><rect x="857" y="212" width="1" height="47" fill="#26a69a"/><rect x="856" y="218" width="3" height="8" fill="#26a69a"/><rect x="861" y="175" width="1" height="43" fill="#26a69a"/><rect x="860" y="180" width="3" height="38" fill="#26a69a"/><rect x="865" y="154" width="1" height="49" fill="#ef5350"/><rect x="864" y="179" width="3" height="3" fill="#ef5350"/><rect x="869" y="173" width="1" height="22" fill="#26a69a"/><rect x="868" y="174" width="3" height="9" fill="#26a69a"/><rect x="873" y="143" width="1" height="63" fill="#ef5350"/><rect x="872" y="174" width="3" height="27" fill="#ef5350"/><rect x="877" y="197" width="1" height="29" fill="#ef5350"/><rect x="876" y="200" width="3" height="14" fill="#ef5350"/><rect x="881" y="200" width="1" height="40" fill="#ef5350"/><rect x="880" y="211" width="3" height="29" fill="#ef5350"/><rect x="886" y="222" width="1" height="58" fill="#26a69a"/><rect x="885" y="226" width="3" height="13" fill="#26a69a"/><rect x="890" y="222" width="1" height="77" fill="#ef5350"/><rect x="889" y="226" width="3" height="70" fill="#ef5350"/><rect x="894" y="282" width="1" height="41" fill="#ef5350"/><rect x="893" y="295" width="3" height="14" fill="#ef5350"/><rect x="898" y="301" width="1" height="69" fill="#ef5350"/><rect x="897" y="308" width="3" height="45" fill="#ef5350"/><rect x="902" y="353" width="1" height="150" fill="#ef5350"/><rect x="901" y="353" width="3" height="73" fill="#ef5350"/><rect x="906" y="372" width="1" height="54" fill="#26a69a"/><rect x="905" y="390" width="3" height="36" fill="#26a69a"/><rect x="910" y="360" width="1" height="56" fill="#ef5350"/><rect x="909" y="390" width="3" height="17" fill="#ef5350"/><rect x="914" y="272" width="1" height="141" fill="#26a69a"/><rect x="913" y="289" width="3" height="118" fill="#26a69a"/><rect x="919" y="288" width="1" height="39" fill="#ef5350"/><rect x="918" y="289" width="3" height="16" fill="#ef5350"/><rect x="923" y="293" width="1" height="21" fill="#26a69a"/><rect x="922" y="302" width="3" height="3" fill="#26a69a"/><rect x="927" y="286" width="1" height="64" fill="#ef5350"/><rect x="926" y="302" width="3" height="41" fill="#ef5350"/><rect x="931" y="308" width="1" height="53" fill="#26a69a"/><rect x="930" y="331" width="3" height="13" fill="#26a69a"/><rect x="935" y="292" width="1" height="55" fill="#26a69a"/><rect x="934" y="309" width="3" height="23" fill="#26a69a"/><rect x="939" y="288" width="1" height="59" fill="#ef5350"/><rect x="938" y="309" width="3" height="35" fill="#ef5350"/><rect x="943" y="323" width="1" height="65" fill="#ef5350"/><rect x="942" y="343" width="3" height="21" fill="#ef5350"/><rect x="947" y="323" width="1" height="48" fill="#26a69a"/><rect x="946" y="340" width="3" height="24" fill="#26a69a"/><rect x="952" y="325" width="1" height="16" fill="#26a69a"/><rect x="951" y="329" width="3" height="12" fill="#26a69a"/><rect x="956" y="315" width="1" height="34" fill="#ef5350"/><rect x="955" y="329" width="3" height="20" fill="#ef5350"/><rect x="960" y="326" width="1" height="32" fill="#26a69a"/><rect x="959" y="329" width="3" height="19" fill="#26a69a"/><rect x="964" y="295" width="1" height="51" fill="#ef5350"/><rect x="963" y="329" width="3" height="9" fill="#ef5350"/><rect x="968" y="287" width="1" height="54" fill="#26a69a"/><rect x="967" y="299" width="3" height="39" fill="#26a69a"/><rect x="972" y="296" width="1" height="28" fill="#ef5350"/><rect x="971" y="299" width="3" height="15" fill="#ef5350"/><rect x="976" y="232" width="1" height="82" fill="#26a69a"/><rect x="975" y="248" width="3" height="66" fill="#26a69a"/><rect x="980" y="240" width="1" height="16" fill="#26a69a"/><rect x="979" y="246" width="3" height="3" fill="#26a69a"/><rect x="985" y="230" width="1" height="22" fill="#26a69a"/><rect x="984" y="245" width="3" height="2" fill="#26a69a"/><rect x="989" y="240" width="1" height="31" fill="#ef5350"/><rect x="988" y="245" width="3" height="26" fill="#ef5350"/><rect x="993" y="263" width="1" height="91" fill="#ef5350"/><rect x="992" y="270" width="3" height="61" fill="#ef5350"/><rect x="997" y="316" width="1" height="42" fill="#ef5350"/><rect x="996" y="330" width="3" height="8" fill="#ef5350"/><rect x="1001" y="299" width="1" height="44" fill="#26a69a"/><rect x="1000" y="332" width="3" height="6" fill="#26a69a"/><rect x="1005" y="322" width="1" height="38" fill="#ef5350"/><rect x="1004" y="331" width="3" height="6" fill="#ef5350"/><rect x="1009" y="330" width="1" height="12" fill="#ef5350"/><rect x="1008" y="336" width="3" height="3" fill="#ef5350"/><rect x="1014" y="337" width="1" height="32" fill="#ef5350"/><rect x="1013" y="338" width="3" height="30" fill="#ef5350"/><rect x="1018" y="330" width="1" height="41" fill="#26a69a"/><rect x="1017" y="335" width="3" height="34" fill="#26a69a"/><rect x="1022" y="323" width="1" height="43" fill="#ef5350"/><rect x="1021" y="335" width="3" height="30" fill="#ef5350"/><rect x="1026" y="346" width="1" height="52" fill="#26a69a"/><rect x="1025" y="356" width="3" height="9" fill="#26a69a"/><rect x="1030" y="350" width="1" height="47" fill="#ef5350"/><rect x="1029" y="356" width="3" height="33" fill="#ef5350"/><rect x="1034" y="373" width="1" height="79" fill="#ef5350"/><rect x="1033" y="387" width="3" height="41" fill="#ef5350"/><rect x="1038" y="411" width="1" height="20" fill="#26a69a"/><rect x="1037" y="423" width="3" height="5" fill="#26a69a"/><rect x="1042" y="403" width="1" height="29" fill="#26a69a"/><rect x="1041" y="411" width="3" height="13" fill="#26a69a"/><rect x="1047" y="354" width="1" height="62" fill="#26a69a"/><rect x="1046" y="372" width="3" height="39" fill="#26a69a"/><rect x="1051" y="355" width="1" height="28" fill="#26a69a"/><rect x="1050" y="361" width="3" height="12" fill="#26a69a"/><rect x="1055" y="355" width="1" height="43" fill="#ef5350"/><rect x="1054" y="362" width="3" height="6" fill="#ef5350"/><rect x="1059" y="345" width="1" height="23" fill="#26a69a"/><rect x="1058" y="353" width="3" height="15" fill="#26a69a"/><rect x="1063" y="308" width="1" height="54" fill="#26a69a"/><rect x="1062" y="310" width="3" height="44" fill="#26a69a"/><rect x="1067" y="308" width="1" height="22" fill="#ef5350"/><rect x="1066" y="310" width="3" height="11" fill="#ef5350"/><rect x="1071" y="313" width="1" height="30" fill="#ef5350"/><rect x="1070" y="320" width="3" height="16" fill="#ef5350"/><rect x="1075" y="334" width="1" height="30" fill="#ef5350"/><rect x="1074" y="335" width="3" height="18" fill="#ef5350"/><rect x="1080" y="296" width="1" height="66" fill="#26a69a"/><rect x="1079" y="314" width="3" height="39" fill="#26a69a"/><rect x="1084" y="288" width="1" height="46" fill="#26a69a"/><rect x="1083" y="288" width="3" height="27" fill="#26a69a"/><rect x="1088" y="251" width="1" height="41" fill="#26a69a"/><rect x="1087" y="268" width="3" height="22" fill="#26a69a"/><rect x="1092" y="247" width="1" height="31" fill="#26a69a"/><rect x="1091" y="263" width="3" height="6" fill="#26a69a"/><rect x="1096" y="257" width="1" height="14" fill="#26a69a"/><rect x="1095" y="261" width="3" height="4" fill="#26a69a"/><rect x="1100" y="249" width="1" height="29" fill="#26a69a"/><rect x="1099" y="257" width="3" height="5" fill="#26a69a"/><rect x="1104" y="236" width="1" height="38" fill="#26a69a"/><rect x="1103" y="250" width="3" height="8" fill="#26a69a"/></g>

<rect x="1518" y="5" width="1" height="799" fill="#2a2e39"/>
<rect x="3" y="776" width="1568" height="1" fill="#2a2e39"/>
<g font-size="12" fill="#b2b5be" stroke="#b2b5be" stroke-width="0.25" text-anchor="end">
<text x="1562.5" y="40.5" textLength="35.2" lengthAdjust="spacingAndGlyphs">76,000</text>
<text x="1562.5" y="75.9" textLength="35.2" lengthAdjust="spacingAndGlyphs">74,000</text>
<text x="1562.5" y="111.3" textLength="35.2" lengthAdjust="spacingAndGlyphs">72,000</text>
<text x="1562.5" y="146.6" textLength="35.2" lengthAdjust="spacingAndGlyphs">70,000</text>
<text x="1562.5" y="182.0" textLength="35.2" lengthAdjust="spacingAndGlyphs">68,000</text>
<text x="1562.5" y="217.3" textLength="35.2" lengthAdjust="spacingAndGlyphs">66,000</text>
<text x="1562.5" y="288.0" textLength="35.2" lengthAdjust="spacingAndGlyphs">62,000</text>
<text x="1562.5" y="323.4" textLength="35.2" lengthAdjust="spacingAndGlyphs">60,000</text>
<text x="1562.5" y="358.7" textLength="35.2" lengthAdjust="spacingAndGlyphs">58,000</text>
<text x="1562.5" y="394.1" textLength="35.2" lengthAdjust="spacingAndGlyphs">56,000</text>
<text x="1562.5" y="429.4" textLength="35.2" lengthAdjust="spacingAndGlyphs">54,000</text>
<text x="1562.5" y="464.8" textLength="35.2" lengthAdjust="spacingAndGlyphs">52,000</text>
<text x="1562.5" y="500.1" textLength="35.2" lengthAdjust="spacingAndGlyphs">50,000</text>
<text x="1562.5" y="535.5" textLength="35.2" lengthAdjust="spacingAndGlyphs">48,000</text>
<text x="1562.5" y="570.8" textLength="35.2" lengthAdjust="spacingAndGlyphs">46,000</text>
<text x="1562.5" y="606.2" textLength="35.2" lengthAdjust="spacingAndGlyphs">44,000</text>
<text x="1562.5" y="641.5" textLength="35.2" lengthAdjust="spacingAndGlyphs">42,000</text>
<text x="1562.5" y="676.9" textLength="35.2" lengthAdjust="spacingAndGlyphs">40,000</text>
<text x="1562.5" y="712.2" textLength="35.2" lengthAdjust="spacingAndGlyphs">38,000</text>
<text x="1562.5" y="747.6" textLength="35.2" lengthAdjust="spacingAndGlyphs">36,000</text>
</g>
<path d="M1519,242 H1566 a2,2 0 0 1 2,2 V257 a2,2 0 0 1 -2,2 H1519 Z" fill="#26a69a"/>
<text x="1544.8" y="254.2" font-size="12.2" fill="#ffffff" stroke="#ffffff" stroke-width="0.35" text-anchor="middle" textLength="36" lengthAdjust="spacingAndGlyphs">63,950</text>
<path d="M1519,758 H1549 a2,2 0 0 1 2,2 V773 a2,2 0 0 1 -2,2 H1519 Z" fill="#26a69a"/>
<text x="1536.3" y="770.7" font-size="12.2" fill="#ffffff" stroke="#ffffff" stroke-width="0.35" text-anchor="middle">387</text>
<rect x="1519" y="5" width="52" height="33" fill="url(#bgg)"/>
<rect x="1522.5" y="9.5" width="45" height="25" rx="4" fill="url(#bgg)" stroke="#434651" stroke-width="1"/>
<text x="1525.8" y="26" font-size="12.3" fill="#e6e8ee" textLength="21" lengthAdjust="spacingAndGlyphs">USD</text>
<polyline points="1558,21 1560.5,23.5 1563,21" fill="none" stroke="#d1d4dc" stroke-width="1.2"/>
<defs><clipPath id="cp"><rect x="3" y="777" width="1513.5" height="27"/></clipPath></defs>
<g font-size="12.4" fill="#b2b5be" stroke="#b2b5be" stroke-width="0.25" text-anchor="middle" clip-path="url(#cp)">
<text x="6.8" y="794" textLength="27" lengthAdjust="spacingAndGlyphs">2024</text>
<text x="134.4" y="794" textLength="19.5" lengthAdjust="spacingAndGlyphs">Feb</text>
<text x="254.1" y="794" textLength="20.1" lengthAdjust="spacingAndGlyphs">Mar</text>
<text x="382.1" y="794" textLength="18.9" lengthAdjust="spacingAndGlyphs">Apr</text>
<text x="505.4" y="794" textLength="21.6" lengthAdjust="spacingAndGlyphs">May</text>
<text x="634.1" y="794" textLength="18.8" lengthAdjust="spacingAndGlyphs">Jun</text>
<text x="757.8" y="794" textLength="15.5" lengthAdjust="spacingAndGlyphs">Jul</text>
<text x="885.4" y="794" textLength="19.5" lengthAdjust="spacingAndGlyphs">Aug</text>
<text x="1013.5" y="794" textLength="19.5" lengthAdjust="spacingAndGlyphs">Sep</text>
<text x="1137.5" y="794" textLength="18.9" lengthAdjust="spacingAndGlyphs">Oct</text>
<text x="1265.3" y="794" textLength="20.6" lengthAdjust="spacingAndGlyphs">Nov</text>
<text x="1389" y="794" textLength="20" lengthAdjust="spacingAndGlyphs">Dec</text>
<text x="1516.5" y="794" textLength="27" lengthAdjust="spacingAndGlyphs">2025</text>
</g>
<g fill="none" stroke="#b2b5be" stroke-width="1.1"><path d="M1538.2,790.5 L1541.6,784.7 H1549.6 L1553,790.5 L1549.6,796.3 H1541.6 Z"/><circle cx="1545.5" cy="790.5" r="2"/></g>
<circle cx="21" cy="21" r="9" fill="#f7931a"/>
<text x="21.3" y="25.4" font-size="12" font-style="italic" fill="#ffffff" stroke="#ffffff" stroke-width="0.5" text-anchor="middle">B</text>
<rect x="20" y="15.5" width="1" height="2" fill="#fff"/><rect x="22.5" y="15.5" width="1" height="2" fill="#fff"/><rect x="18.6" y="24.5" width="1" height="2" fill="#fff"/><rect x="21" y="24.5" width="1" height="2" fill="#fff"/>
<g font-size="14.7" fill="#d1d4dc" stroke="#d1d4dc" stroke-width="0.25">
<text x="34.1" y="27" textLength="49.3" lengthAdjust="spacingAndGlyphs">Bitcoin</text>
<text x="90.4" y="27" textLength="4.3" lengthAdjust="spacingAndGlyphs">/</text>
<text x="101.6" y="27" textLength="28.2" lengthAdjust="spacingAndGlyphs">U.S.</text>
<text x="137.3" y="27" textLength="40.3" lengthAdjust="spacingAndGlyphs">Dollar</text>
<text x="191.7" y="27" textLength="16.9" lengthAdjust="spacingAndGlyphs">1D</text>
<text x="221.7" y="27" textLength="67.5" lengthAdjust="spacingAndGlyphs">BITSTAMP</text>
<circle cx="185.4" cy="22.3" r="1.2"/><circle cx="216.3" cy="22.3" r="1.2"/>
</g>
<path d="M301,16.5 H313 L309.6,22 L313,27.4 H301 Z" fill="#2962ff"/>
<circle cx="341" cy="21" r="9" fill="#1a3733"/><circle cx="341" cy="21" r="4" fill="#22ab94"/>
<g font-size="12.5" stroke-width="0.25">
<text x="365.6" y="26" fill="#d1d4dc" textLength="9.2" lengthAdjust="spacingAndGlyphs" font-weight="bold">O</text>
<text x="374.8" y="26" fill="#26a69a" stroke="#26a69a" textLength="38.8" lengthAdjust="spacingAndGlyphs">63,577</text>
<text x="420.7" y="26" fill="#d1d4dc" textLength="8.5" lengthAdjust="spacingAndGlyphs" font-weight="bold">H</text>
<text x="429.2" y="26" fill="#26a69a" stroke="#26a69a" textLength="39.8" lengthAdjust="spacingAndGlyphs">64,730</text>
<text x="475" y="26" fill="#d1d4dc" textLength="6.6" lengthAdjust="spacingAndGlyphs" font-weight="bold">L</text>
<text x="481.6" y="26" fill="#26a69a" stroke="#26a69a" textLength="39.3" lengthAdjust="spacingAndGlyphs">62,585</text>
<text x="527.5" y="26" fill="#d1d4dc" textLength="7.4" lengthAdjust="spacingAndGlyphs" font-weight="bold">C</text>
<text x="534.9" y="26" fill="#26a69a" stroke="#26a69a" textLength="39.7" lengthAdjust="spacingAndGlyphs">63,950</text>
<text x="581.7" y="26" fill="#26a69a" stroke="#26a69a" textLength="26.5" lengthAdjust="spacingAndGlyphs">+387</text>
<text x="613.8" y="26" fill="#26a69a" stroke="#26a69a" textLength="47.2" lengthAdjust="spacingAndGlyphs">(+0.61%)</text>
</g>
<rect x="11.5" y="37.5" width="61" height="33" rx="5" fill="#131722" stroke="#f23645" stroke-width="1"/>
<text x="41.6" y="51.6" font-size="12.5" font-weight="bold" fill="#f23645" text-anchor="middle" textLength="38" lengthAdjust="spacingAndGlyphs">63,961</text>
<text x="41.9" y="66" font-size="10.6" fill="#f23645" text-anchor="middle" textLength="23.8" lengthAdjust="spacingAndGlyphs">SELL</text>
<text x="83.1" y="58.2" font-size="10.5" font-weight="bold" fill="#c8cad0" text-anchor="middle">7</text>
<rect x="94.5" y="37.5" width="60.5" height="33" rx="5" fill="#131722" stroke="#2962ff" stroke-width="1"/>
<text x="124.5" y="51.6" font-size="12.5" font-weight="bold" fill="#2962ff" text-anchor="middle" textLength="38.7" lengthAdjust="spacingAndGlyphs">63,968</text>
<text x="124.4" y="66" font-size="10.6" fill="#2962ff" text-anchor="middle" textLength="20.7" lengthAdjust="spacingAndGlyphs">BUY</text>
<rect x="12.5" y="77.5" width="31" height="20" rx="3" fill="url(#bgg)" stroke="#363a45" stroke-width="1"/>
<polyline points="18,85.5 22.2,89.5 26.4,85.5" fill="none" stroke="#d1d4dc" stroke-width="1.2"/>
<text x="31.7" y="92" font-size="12.5" fill="#d1d4dc">2</text>
<path d="M13.6,745.1 H47.7 L40.6,763.6 H19.2 V754.9 H13.6 Z" fill="#131722"/>
<g fill="#d1d4dc">
<path d="M14.9,747.1 H26.8 V762 H20.9 V752.9 H14.9 Z"/>
<circle cx="32.1" cy="749.7" r="2.5"/>
<path d="M39.1,747.1 H45.3 L39.1,762 H32.1 Z"/>
</g>
<circle cx="1103.3" cy="763.3" r="9" fill="#131722" stroke="#ab47bc" stroke-width="1.4"/>
<path d="M1106.6,758.6 L1100.2,764.3 L1103.6,764.3 L1100.6,769 L1107,762.6 L1103.8,762.6 Z" fill="#ab47bc"/>
<circle cx="1122.6" cy="763" r="9.4" fill="#131722" stroke="#f23645" stroke-width="1.6"/>
<circle cx="1116.7" cy="763" r="10" fill="#131722" stroke="#f23645" stroke-width="1.8"/>
<defs><clipPath id="fl"><circle cx="1116.7" cy="763" r="8"/></clipPath></defs>
<g clip-path="url(#fl)"><rect x="1108" y="754" width="18" height="18" fill="#ffffff"/>
<rect x="1108" y="755.0" width="18" height="1.1" fill="#ef5350"/>
<rect x="1108" y="757.2" width="18" height="1.1" fill="#ef5350"/>
<rect x="1108" y="759.4" width="18" height="1.1" fill="#ef5350"/>
<rect x="1108" y="761.6" width="18" height="1.1" fill="#ef5350"/>
<rect x="1108" y="763.8" width="18" height="1.1" fill="#ef5350"/>
<rect x="1108" y="754" width="10.7" height="10.3" fill="#1e88e5"/>
<rect x="1110.5" y="756.2" width="0.9" height="0.9" fill="#cfe3f7"/>
<rect x="1112.8" y="756.2" width="0.9" height="0.9" fill="#cfe3f7"/>
<rect x="1115.1" y="756.2" width="0.9" height="0.9" fill="#cfe3f7"/>
<rect x="1110.5" y="758.6" width="0.9" height="0.9" fill="#cfe3f7"/>
<rect x="1112.8" y="758.6" width="0.9" height="0.9" fill="#cfe3f7"/>
<rect x="1115.1" y="758.6" width="0.9" height="0.9" fill="#cfe3f7"/>
<rect x="1110.5" y="761.0" width="0.9" height="0.9" fill="#cfe3f7"/>
<rect x="1112.8" y="761.0" width="0.9" height="0.9" fill="#cfe3f7"/>
<rect x="1115.1" y="761.0" width="0.9" height="0.9" fill="#cfe3f7"/>
<rect x="1108" y="767.2" width="18" height="6" fill="#ef5350"/>
</g>
<path fill-rule="evenodd" fill="#2a2e39" d="M0,1 H1573 V806 H0 Z M6.5,5 H1568 A3.5,3.5 0 0 1 1571.5,8.5 V804 H3 V8.5 A3.5,3.5 0 0 1 6.5,5 Z"/>
<rect x="3" y="805" width="1570" height="1" fill="#131722"/>
</svg>
</body></html>
